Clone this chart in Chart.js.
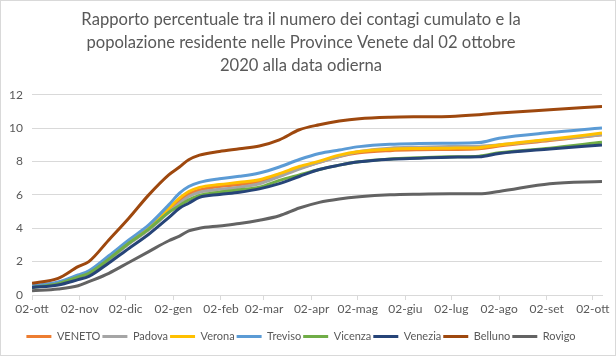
<!DOCTYPE html>
<html>
<head>
<meta charset="utf-8">
<script src="https://cdn.jsdelivr.net/npm/chart.js@4/dist/chart.umd.min.js"></script>
<style>
html,body{margin:0;padding:0;background:#fff;}
canvas{display:block;}
</style>
</head>
<body>
<canvas id="c" width="616" height="356"></canvas>
<script>
// Days since 02 Oct 2020 at which values were read
const days = [0, 17, 30, 37, 50, 63, 76, 89, 96, 102, 109, 122, 135, 148, 161, 174, 187, 200, 213, 233, 252, 272, 291, 304, 337, 371];

const veneto  = [0.50, 0.70, 1.08, 1.30, 2.15, 3.10, 3.95, 5.05, 5.65, 6.05, 6.30, 6.50, 6.62, 6.80, 7.15, 7.60, 7.95, 8.30, 8.52, 8.65, 8.70, 8.72, 8.76, 8.92, 9.25, 9.60];
const padova  = [0.45, 0.68, 1.05, 1.28, 2.10, 3.05, 3.90, 4.95, 5.50, 5.90, 6.16, 6.33, 6.46, 6.67, 7.10, 7.55, 7.95, 8.30, 8.60, 8.80, 8.86, 8.90, 8.92, 9.00, 9.30, 9.60];
const verona  = [0.50, 0.72, 1.12, 1.35, 2.20, 3.15, 4.05, 5.20, 5.80, 6.20, 6.45, 6.62, 6.75, 6.91, 7.27, 7.70, 8.02, 8.38, 8.60, 8.74, 8.78, 8.80, 8.83, 8.99, 9.33, 9.70];
const treviso = [0.55, 0.78, 1.20, 1.45, 2.35, 3.30, 4.20, 5.40, 6.10, 6.50, 6.75, 6.97, 7.11, 7.31, 7.67, 8.12, 8.48, 8.69, 8.89, 9.03, 9.07, 9.09, 9.13, 9.39, 9.73, 10.00];
const vicenza = [0.45, 0.68, 1.08, 1.30, 2.15, 3.10, 3.95, 4.95, 5.35, 5.70, 5.96, 6.16, 6.30, 6.46, 6.87, 7.20, 7.52, 7.78, 7.98, 8.15, 8.22, 8.28, 8.32, 8.52, 8.80, 9.15];
const venezia = [0.45, 0.60, 0.92, 1.11, 1.92, 2.79, 3.64, 4.64, 5.20, 5.50, 5.85, 6.02, 6.16, 6.36, 6.67, 7.10, 7.52, 7.78, 7.98, 8.14, 8.20, 8.26, 8.28, 8.48, 8.75, 8.99];
const belluno = [0.70, 1.00, 1.70, 2.00, 3.30, 4.60, 6.00, 7.20, 7.67, 8.10, 8.38, 8.60, 8.76, 8.93, 9.30, 9.90, 10.20, 10.42, 10.56, 10.65, 10.68, 10.70, 10.80, 10.90, 11.10, 11.30];
const rovigo  = [0.25, 0.36, 0.55, 0.80, 1.30, 1.95, 2.60, 3.25, 3.53, 3.84, 4.00, 4.14, 4.28, 4.48, 4.75, 5.21, 5.55, 5.75, 5.88, 6.00, 6.04, 6.06, 6.06, 6.20, 6.67, 6.80];

const seriesNames = ['VENETO', 'Padova', 'Verona', 'Treviso', 'Vicenza', 'Venezia', 'Belluno', 'Rovigo'];
const seriesValues = [veneto, padova, verona, treviso, vicenza, venezia, belluno, rovigo];
const seriesColors = ['#ED7D31', '#A5A5A5', '#FFC000', '#5B9BD5', '#70AD47', '#264478', '#9E480E', '#636363'];

// X tick labels (2nd of each month) and their day offsets from 02 Oct 2020
const xTickLabels = ['02-ott', '02-nov', '02-dic', '02-gen', '02-feb', '02-mar', '02-apr', '02-mag', '02-giu', '02-lug', '02-ago', '02-set', '02-ott'];
const xTickDays = [0, 31, 61, 92, 123, 151, 182, 212, 243, 273, 304, 335, 365];

const titleLines = [
  'Rapporto percentuale tra il numero dei contagi cumulato e la',
  'popolazione residente nelle Province Venete dal 02 ottobre',
  '2020 alla data odierna'
];

const FONT = 'Lato, "Open Sans", sans-serif';
const TXT = '#595959';

const datasets = seriesNames.map((name, i) => ({
  label: name,
  data: days.map((d, k) => ({ x: d, y: seriesValues[i][k] })),
  borderColor: seriesColors[i],
  backgroundColor: seriesColors[i],
  borderWidth: 3,
  pointRadius: 0,
  cubicInterpolationMode: 'monotone',
  fill: false,
  order: seriesNames.length - i
}));

const borderPlugin = {
  id: 'outerBorder',
  beforeDraw(chart) {
    const c = chart.ctx;
    c.save();
    c.fillStyle = '#fff';
    c.fillRect(0, 0, chart.width, chart.height);
    c.restore();
  },
  afterDraw(chart) {
    const c = chart.ctx;
    c.save();
    c.strokeStyle = '#d9d9d9';
    c.lineWidth = 1;
    c.strokeRect(0.5, 0.5, chart.width - 1, chart.height - 1);
    c.restore();
  }
};

new Chart(document.getElementById('c'), {
  type: 'line',
  data: { datasets },
  plugins: [borderPlugin],
  options: {
    responsive: false,
    animation: false,
    events: [],
    layout: { padding: { left: 0, right: 14, top: 0, bottom: 4 } },
    plugins: {
      title: {
        display: true,
        text: titleLines,
        color: TXT,
        font: { family: FONT, size: 16.6, weight: 'normal', lineHeight: 1.4 },
        padding: { top: 8, bottom: 17 }
      },
      legend: {
        position: 'bottom',
        labels: {
          color: TXT,
          font: { family: FONT, size: 11 },
          boxWidth: 25,
          boxHeight: 3,
          padding: 2,
          sort: (a, b) => a.datasetIndex - b.datasetIndex,
          generateLabels(chart) {
            const items = Chart.defaults.plugins.legend.labels.generateLabels(chart);
            items.forEach(it => { it.lineWidth = 0; it.strokeStyle = it.fillStyle; });
            return items;
          }
        }
      },
      tooltip: { enabled: false }
    },
    scales: {
      x: {
        type: 'linear',
        min: 0,
        max: 371,
        afterBuildTicks(scale) {
          scale.ticks = xTickDays.map(v => ({ value: v }));
        },
        afterFit(scale) { scale.height = 34; },
        ticks: {
          color: TXT,
          font: { family: FONT, size: 12 },
          padding: 2,
          maxRotation: 0,
          autoSkip: false,
          callback(value) {
            const idx = xTickDays.indexOf(value);
            return idx >= 0 ? xTickLabels[idx] : '';
          }
        },
        grid: { drawOnChartArea: false, drawTicks: true, tickLength: 5, color: '#d9d9d9' },
        border: { color: '#d9d9d9' }
      },
      y: {
        min: 0,
        max: 12,
        afterFit(scale) { scale.width = 32; },
        ticks: {
          stepSize: 2,
          color: TXT,
          font: { family: FONT, size: 12 },
          padding: 9
        },
        grid: { color: '#d9d9d9', drawTicks: false },
        border: { display: false }
      }
    }
  }
});
</script>
</body>
</html>
